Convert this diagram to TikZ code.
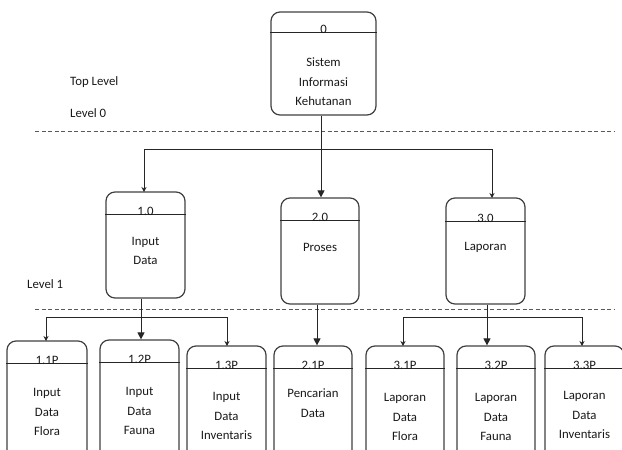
\documentclass[tikz,border=0pt]{standalone}
\usepackage{fontspec}
\setmainfont{Carlito}
\usetikzlibrary{arrows.meta}
\tikzset{
  proc/.style={draw=black!75, line width=1.2pt, rounded corners=9pt, inner sep=0pt},
  divline/.style={draw=black!85, line width=1pt},
  conn/.style={draw=black!85, line width=0.9pt},
  bigarrow/.style={conn, -{Triangle[width=7pt,length=7pt]}},
  smallarrow/.style={conn, -{Stealth[width=5pt,length=5pt]}},
  levelsep/.style={draw=black!65, line width=0.9pt, dash pattern=on 4pt off 2.5pt},
  txt/.style={align=center, inner sep=0pt, font=\fontsize{12.8}{19.5}\selectfont, text=black!90},
  numtxt/.style={anchor=base, inner sep=0pt, font=\fontsize{12.8}{14}\selectfont, text=black!90},
  lvl/.style={anchor=west, inner sep=0pt, font=\fontsize{12.8}{14}\selectfont, text=black!90}
}
\newcommand\pbox[9]{%
  \pgfmathsetmacro\pbcx{(#2+#4)/2}%
  \pgfmathsetmacro\pbcy{(#3+#5)/2}%
  \pgfmathsetmacro\pbw{#4-#2}%
  \pgfmathsetmacro\pbh{#5-#3}%
  \node[proc, minimum width=\pbw pt, minimum height=\pbh pt] (#1) at (\pbcx,\pbcy) {};
  \draw[divline] (#1.west |- 0,#6) -- (#1.east |- 0,#6);
  \node[numtxt] (#1n) at (\pbcx,#6+1) {#7};
  \node[txt] (#1t) at (\pbcx,#9) {#8};
}
\begin{document}
\begin{tikzpicture}[x=1pt,y=-1pt]
\useasboundingbox (0,0) rectangle (622,450);
\clip (0,0) rectangle (622,450);

% level labels
\node[lvl] (toplevel) at (70,82) {Top Level};
\node[lvl] (level0) at (70,113) {Level 0};
\node[lvl] (level1) at (27,284) {Level 1};

% separators
\coordinate (s1a) at (35,131); \coordinate (s1b) at (614,131);
\coordinate (s2a) at (35,309); \coordinate (s2b) at (614,309);
\draw[levelsep] (s1a) -- (s1b);
\draw[levelsep] (s2a) -- (s2b);

% top
\pbox{p0}{271}{12}{376}{115}{32}{0}{Sistem\\Informasi\\Kehutanan}{82}

% level 0
\pbox{p10}{106}{192}{185}{298}{214}{1.0}{Input\\Data}{251}
\pbox{p20}{281}{198}{359}{304}{220}{2.0}{Proses}{247}
\pbox{p30}{446}{198}{525}{304}{221}{3.0}{Laporan}{247}

% level 1
\pbox{p11}{7}{341}{87}{470}{363}{1.1P}{Input\\Data\\Flora}{412}
\pbox{p12}{100}{340}{179}{470}{362}{1.2P}{Input\\Data\\Fauna}{411}
\pbox{p13}{187}{346}{266}{470}{368}{1.3P}{Input\\Data\\Inventaris}{416}
\pbox{p21}{274}{346}{352}{470}{368}{2.1P}{Pencarian\\Data}{403}
\pbox{p31}{366}{346}{444}{470}{368}{3.1P}{Laporan\\Data\\Flora}{417}
\pbox{p32}{457}{346}{535}{470}{368}{3.2P}{Laporan\\Data\\Fauna}{417}
\pbox{p33}{545}{346}{624}{470}{368}{3.3P}{Laporan\\Data\\Inventaris}{415}

% connectors top -> level 0
\coordinate (j0) at (321,149);
\coordinate (t10) at (144,192);
\coordinate (t30) at (492,198);
\draw[bigarrow] (p0.south -| j0) -- (j0 |- p20.north);
\draw[smallarrow] (j0) -| (t10);
\draw[smallarrow] (j0) -| (t30);

% connectors 1.0
\coordinate (j1) at (141,317);
\coordinate (t11) at (46,341);
\coordinate (t13) at (227,346);
\draw[bigarrow] (p10.south -| j1) -- (j1 |- p12.north);
\draw[smallarrow] (j1) -| (t11);
\draw[smallarrow] (j1) -| (t13);

% connectors 2.0
\coordinate (j2) at (317,317);
\draw[bigarrow] (p20.south -| j2) -- (j2 |- p21.north);

% connectors 3.0
\coordinate (j3) at (487,317);
\coordinate (t31) at (403,346);
\coordinate (t33) at (582,346);
\draw[bigarrow] (p30.south -| j3) -- (j3 |- p32.north);
\draw[smallarrow] (j3) -| (t31);
\draw[smallarrow] (j3) -| (t33);
\end{tikzpicture}
\end{document}
